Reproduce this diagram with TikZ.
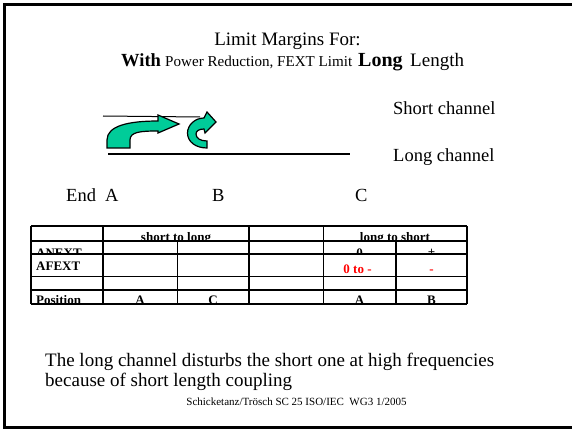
\documentclass[tikz,border=0pt]{standalone}
\usepackage{fontspec}
\setmainfont{Liberation Serif}
\definecolor{arrowgreen}{HTML}{00CC99}
\definecolor{tred}{HTML}{FF0000}
\newcommand{\clipnode}[6]{\begin{scope}\clip (#1) rectangle (#2);\node[#3] (#4) at (#5) {#6};\end{scope}}
\begin{document}
\begin{tikzpicture}[x=1pt,y=-1pt,
  big/.style={font=\fontsize{19}{21}\selectfont, inner sep=0pt, anchor=base west},
  lab/.style={font=\fontsize{18.5}{21}\selectfont, inner sep=0pt, anchor=base west},
  tbl/.style={font=\fontsize{13}{15}\selectfont\bfseries, inner sep=0pt, anchor=base},
  tblw/.style={tbl, anchor=base west},
  heavy/.style={line width=2pt},
  medium/.style={line width=1.5pt},
  light/.style={line width=1pt},
  garrow/.style={fill=arrowgreen, draw=black, line width=1.2pt, line join=miter},
  frame/.style={line width=2.6pt}]
\useasboundingbox (0,0) rectangle (572,430);
% frame
\coordinate (fr1) at (572,4.5);
\coordinate (fr2) at (4.5,4.5);
\coordinate (fr3) at (4.5,427.5);
\coordinate (fr4) at (572,427.5);
\draw[frame] (fr1) -- (fr2) -- (fr3) -- (fr4);
% title
\node[font=\fontsize{19}{21}\selectfont, inner sep=0pt, anchor=base] (t1) at (287.5,46) {Limit Margins For:};
\node[font=\fontsize{18.5}{21}\selectfont\bfseries, inner sep=0pt, anchor=base west] (t2a) at (121,67) {With};
\node[font=\fontsize{15.1}{17}\selectfont, inner sep=0pt, anchor=base west] (t2b) at (165,67) {Power Reduction, FEXT Limit};
\node[font=\fontsize{20}{22}\selectfont\bfseries, inner sep=0pt, anchor=base west] (t2c) at (358,67) {Long};
\node[font=\fontsize{19}{21}\selectfont, inner sep=0pt, anchor=base west] (t2d) at (410,67) {Length};
% channels
\coordinate (sc1) at (103,116);
\coordinate (sc2) at (200,117);
\draw[line width=1pt] (sc1) -- (sc2);
\coordinate (lc1) at (108,154);
\coordinate (lc2) at (350,154);
\draw[line width=2pt] (lc1) -- (lc2);
\node[lab] (shortl) at (393,114.5) {Short channel};
\node[lab] (longl) at (393,161.5) {Long channel};
% bent arrow
\filldraw[garrow] (107,148) -- (107,140) .. controls (107,126) and (128,121) .. (158,121) -- (158,115) -- (179,124) -- (158,133) -- (158,131) .. controls (140,131) and (130,132) .. (130,140) -- (130,148) -- cycle;
% curly arrow
\filldraw[garrow] (207,148) -- (207,141) .. controls (200,141) and (196,138) .. (196,134) .. controls (196,131) and (199,129) .. (204,129) -- (205,133) -- (216,122) -- (207,112) -- (204,118) .. controls (195,118) and (187.5,125) .. (187.5,133) .. controls (187.5,142) and (196,148) .. (207,148) -- cycle;
% end labels
\node[lab] (endl) at (66,202) {End};
\node[lab] (ea) at (105,202) {A};
\node[lab] (eb) at (212,202) {B};
\node[lab] (ec) at (355,202) {C};
% table text (clipped to cells)
\clipnode{103,226}{249,241}{tbl}{c01}{176,241}{short to long}
\clipnode{323,226}{467,241}{tbl}{c04}{395,241}{long to short}
\clipnode{31,241}{103,253.5}{tblw}{c10}{36,257}{ANEXT}
\clipnode{323,241}{396,253.5}{tbl}{c14}{359.5,257}{0}
\clipnode{396,241}{467,253.5}{tbl}{c15}{431.5,256}{+}
\clipnode{31,254}{103,276}{tblw}{c20}{36,270.5}{AFEXT}
\clipnode{323,254}{396,276}{tbl, text=tred}{c24}{357.5,273.3}{0 to -}
\clipnode{396,254}{467,276}{tbl, text=tred}{c25}{431.5,273.3}{-}
\clipnode{31,290}{103,303.5}{tblw}{c40}{36,304}{Position}
\clipnode{103,290}{177,303.5}{tbl}{c41}{140,304}{A}
\clipnode{177,290}{249,303.5}{tbl}{c42}{213,304}{C}
\clipnode{323,290}{396,303.5}{tbl}{c44}{359.5,304}{A}
\clipnode{396,290}{467,303.5}{tbl}{c45}{431.5,304}{B}
% table grid
\draw[medium] (31,226) -- (467,226);
\draw[heavy] (31,241) -- (467,241);
\draw[heavy] (31,254) -- (467,254);
\draw[light] (31,276) -- (467,276);
\draw[medium] (31,290) -- (467,290);
\draw[heavy] (31,304) -- (467,304);
\draw[medium] (31,226) -- (31,304);
\draw[heavy] (103,226) -- (103,304);
\draw[light] (177,241) -- (177,304);
\draw[heavy] (249,226) -- (249,304);
\draw[light] (323,226) -- (323,304);
\draw[heavy] (396,241) -- (396,304);
\draw[heavy] (467,226) -- (467,304);
% bottom text
\node[big] (b1) at (45,366) {The long channel disturbs the short one at high frequencies};
\node[big] (b2) at (45,386) {because of short length coupling};
\node[font=\fontsize{11}{13}\selectfont, inner sep=0pt, anchor=base] (foot) at (296.5,405) {Schicketanz/Trösch SC 25 ISO/IEC\ \ WG3 1/2005};
\end{tikzpicture}
\end{document}
